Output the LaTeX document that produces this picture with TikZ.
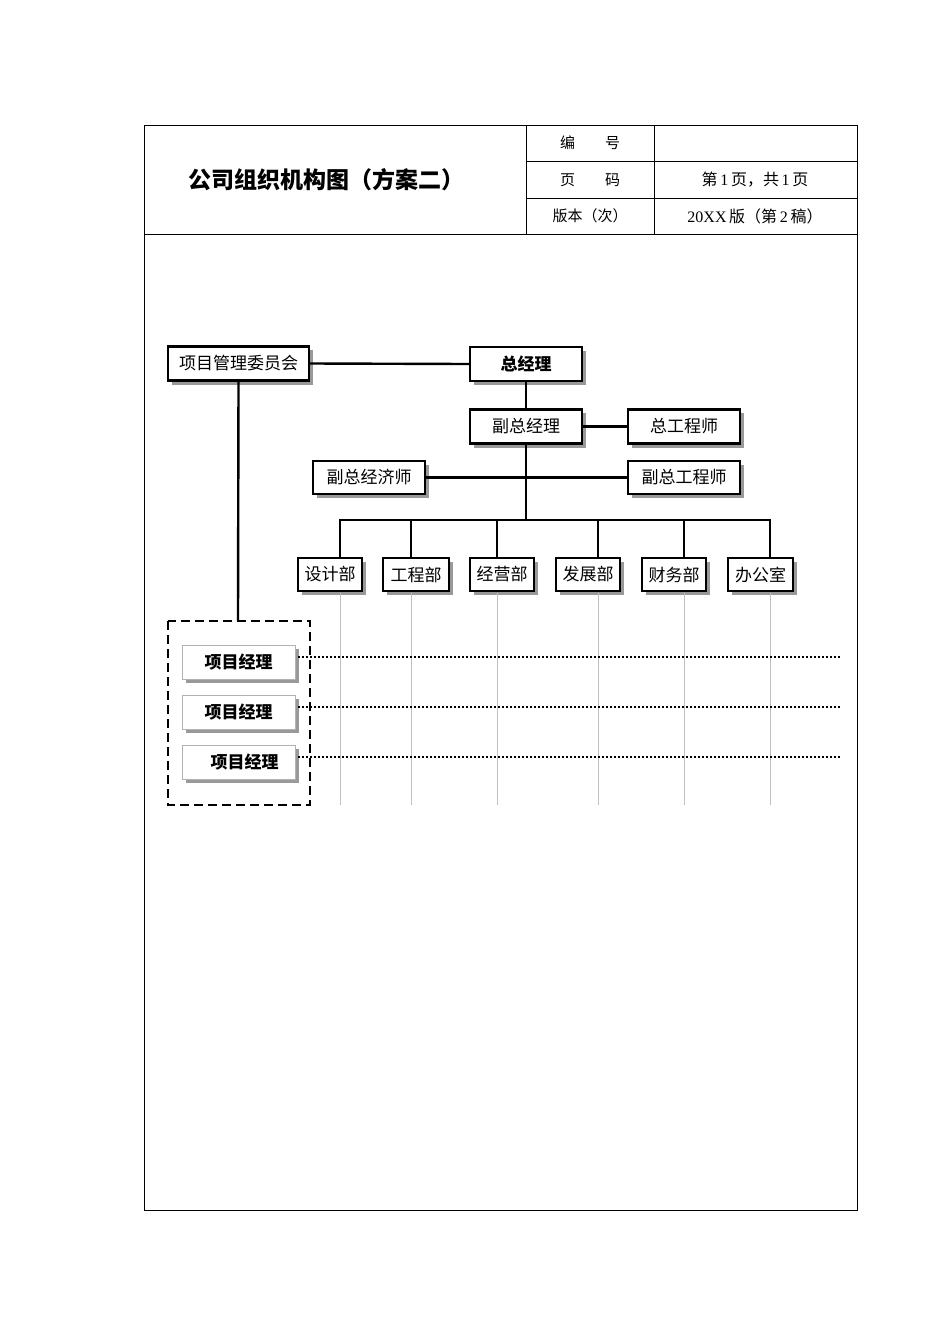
\documentclass[tikz,border=0pt]{standalone}
\usepackage{fontspec}
\setmainfont{Liberation Serif}
\newfontfamily\cjk{Noto Sans CJK SC}
\begin{document}
\begin{tikzpicture}[x=1pt,y=-1pt,
 box/.style={draw,line width=2.4pt,fill=white,minimum height=34pt,inner sep=1pt,font=\cjk\fontsize{17}{19}\selectfont},
 shad/.style={fill=gray!80},
 pm/.style={draw=gray!60,line width=0.7pt,fill=white,minimum width=113pt,minimum height=34pt,font=\cjk\bfseries\fontsize{17}{19}\selectfont},
 ln/.style={line width=2.4pt},
 thin/.style={draw=gray!50,line width=0.6pt},
 hd/.style={font=\cjk\fontsize{15}{17}\selectfont}]
\useasboundingbox (0,0) rectangle (950,1344);
% header
\draw[line width=0.8pt] (144,125) rectangle (857,1210);
\draw[line width=0.8pt] (144,234) -- (857,234) (526,125) -- (526,234) (654,125) -- (654,234) (526,161) -- (857,161) (526,198) -- (857,198);
\node (title) at (326,180) {\cjk\bfseries\fontsize{23}{26}\selectfont 公司组织机构图（方案二）};
\node[hd] (h1) at (590,143) {编\hspace{2em}号};
\node[hd] (h2) at (590,180) {页\hspace{2em}码};
\node[hd] (h3) at (590,216) {版本（次）};
\node (v2) at (755,180) {\fontsize{16}{18}\selectfont {\cjk 第}\,1\,{\cjk 页，共}\,1\,{\cjk 页}};
\node (v3) at (755,216) {\fontsize{16}{18}\selectfont 20XX\,{\cjk 版（第}\,2\,{\cjk 稿）}};
% shadows
\foreach \a/\b/\c/\d in {168/346/309/381,470/347/582/381,470/409/582/444,628/409/740/444,313/461/425/494,628/461/740/494,298/558/362/591,383/558/449/591,470/558/534/591,556/558/620/591,642/558/706/591,728/558/793/591,182/645/295/679,182/695/295/729,182/745/295/779}
  \fill[shad] (\a+4,\b+4) rectangle (\c+4,\d+4);
% nodes
\node[box,minimum width=141pt] (pmc) at (238.5,363.5) {项目管理委员会};
\node[box,minimum width=112pt,font=\cjk\bfseries\fontsize{17}{19}\selectfont] (gm) at (526,364) {总经理};
\node[box,minimum width=112pt] (dgm) at (526,426.5) {副总经理};
\node[box,minimum width=112pt] (ce) at (684,426.5) {总工程师};
\node[box,minimum width=112pt,minimum height=33pt] (dec) at (369,477.5) {副总经济师};
\node[box,minimum width=112pt,minimum height=33pt] (dce) at (684,477.5) {副总工程师};
\foreach \n/\x/\w/\t in {d1/330/64/设计部,d2/416/66/工程部,d3/502/64/经营部,d4/588/64/发展部,d5/674/64/财务部,d6/760.5/65/办公室}
  \node[box,minimum width=\w pt,minimum height=33pt] (\n) at (\x,574.5) {\t};
% connectors
\draw[ln] (pmc.east) -- (gm.west);
\draw[ln] (gm.south) -- (dgm.north);
\draw[ln] (dgm.east) -- (ce.west);
\draw[ln] (dgm.south) -- (526,520);
\draw[ln] (dec.east) -- (dce.west);
\draw[ln] (340,558) -- (340,520) -- (770,520) -- (770,558);
\foreach \x in {411,497,598,684} \draw[ln] (\x,520) -- (\x,558);
\foreach \x in {340,411,497,598,684,770} \draw[thin] (\x,593) -- (\x,805);
% dashed group
\draw[line width=2.4pt,dash pattern=on 9pt off 5pt] (168,621) rectangle (310,805);
\coordinate (grp) at (238,621);
\draw[ln] (pmc.south) -- (grp);
\foreach \n/\y/\dx in {p1/662/0,p2/712/0,p3/762/12}{
  \node[pm] (\n) at (238.5,\y) {\hspace*{\dx pt}项目经理};
  \draw[line width=2pt,dotted] (\n.east)++(3,-5) -- (840,\y-5);
}
\end{tikzpicture}
\end{document}
